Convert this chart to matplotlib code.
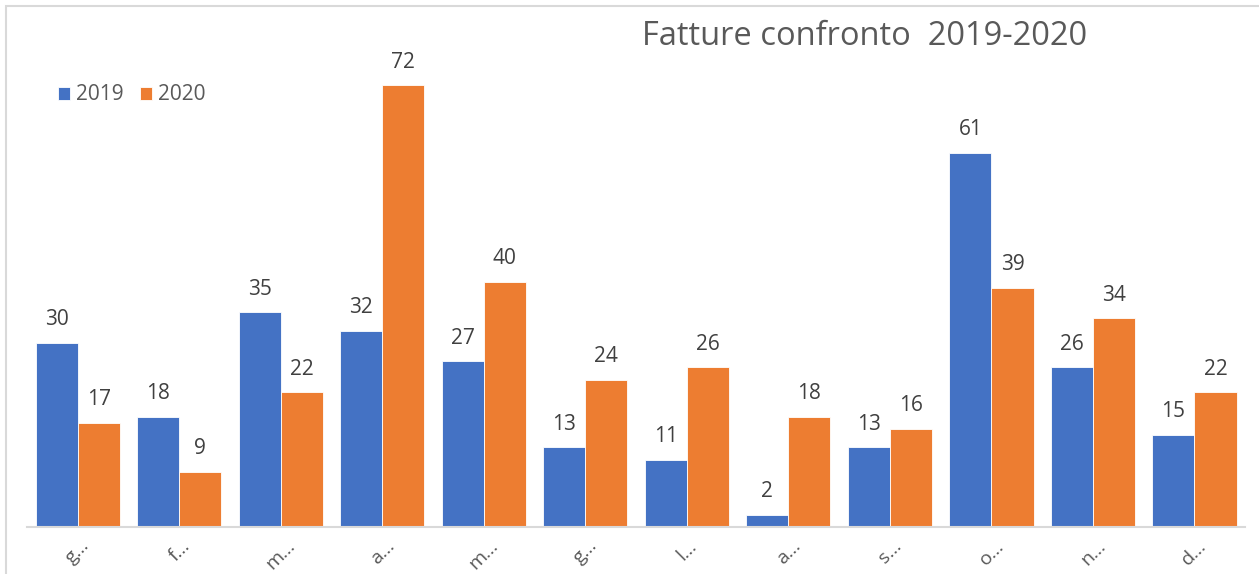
import matplotlib.pyplot as plt
import numpy as np
from matplotlib.patches import Rectangle

plt.rcParams['font.family'] = ['Open Sans', 'DejaVu Sans']

mesi = ['g…', 'f…', 'm…', 'a…', 'm…', 'g…', 'l…', 'a…', 's…', 'o…', 'n…', 'd…']
fatture_2019 = [30, 18, 35, 32, 27, 13, 11, 2, 13, 61, 26, 15]
fatture_2020 = [17, 9, 22, 72, 40, 24, 26, 18, 16, 39, 34, 22]

blu = '#4472c4'
arancio = '#ed7d31'
grigio = '#595959'

fig = plt.figure(figsize=(12.59, 5.74), dpi=100)
ax = fig.add_axes([0.0215, 0.0819, 0.9675, 0.855])

x = np.arange(len(mesi))
w = 0.415
b1 = ax.bar(x - w / 2, fatture_2019, w, color=blu, label='2019',
            edgecolor='white', linewidth=0.6)
b2 = ax.bar(x + w / 2, fatture_2020, w, color=arancio, label='2020',
            edgecolor='white', linewidth=0.6)

# etichette con i valori sopra le barre
for bars in (b1, b2):
    ax.bar_label(bars, padding=9, fontsize=15, color='#404040')

ax.set_xlim(-0.5, len(mesi) - 0.5)
ax.set_ylim(0, 80)
ax.set_yticks([])
ax.set_xticks(x)
ax.set_xticklabels(mesi, rotation=45, fontsize=14, color=grigio,
                   ha='center', va='top')
ax.tick_params(axis='x', length=0, pad=7)
for s in ('top', 'right', 'left'):
    ax.spines[s].set_visible(False)
ax.spines['bottom'].set_color('#d9d9d9')
ax.spines['bottom'].set_linewidth(1.5)

fig.text(0.687, 0.936, 'Fatture confronto  2019-2020', fontsize=23.5,
         color=grigio, ha='center', va='center')

ax.legend(loc='center left', bbox_to_anchor=(58 / 1259, 1 - 95 / 574),
          bbox_transform=fig.transFigure, ncol=2, frameon=False,
          fontsize=15, labelcolor=grigio, borderpad=0, borderaxespad=0,
          handlelength=0.58, handleheight=0.58, handletextpad=0.3,
          columnspacing=0.75)

# bordo del grafico
fig.patches.append(Rectangle((6 / 1259, -0.1), 1.2, 1.1 - 6 / 574,
                             transform=fig.transFigure, fill=False,
                             edgecolor='#d9d9d9', linewidth=1.5))

fig.savefig('out.png', dpi=100)
